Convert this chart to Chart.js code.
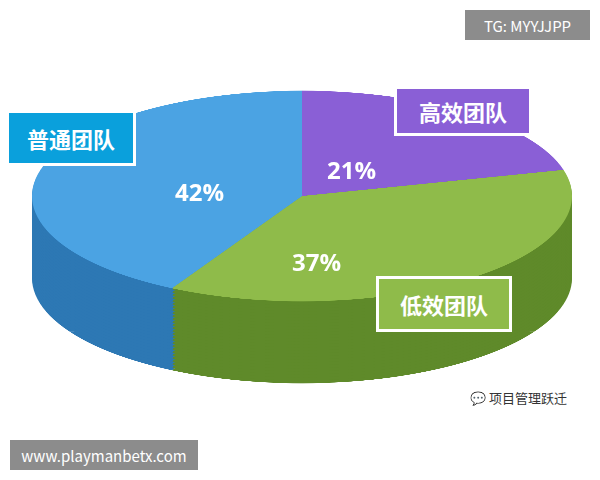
<!DOCTYPE html>
<html><head><meta charset="utf-8">
<script src="https://cdn.jsdelivr.net/npm/chart.js@4/dist/chart.umd.min.js"></script>
<style>
body{margin:0;background:#fff;font-family:"Noto Sans CJK SC","Noto Sans",sans-serif}
#wrap{position:relative;width:600px;height:480px;overflow:hidden;background:#fff}
canvas.pie{position:absolute;left:32px;width:540px;height:540px;transform:scaleY(0.39);transform-origin:50% 50%}
.lab{position:absolute;color:#fff;font-weight:bold;display:flex;align-items:center;justify-content:center}
.pct{position:absolute;color:#fff;font-weight:bold;font-size:24px;font-family:"Open Sans",sans-serif}
</style></head><body>
<div id="wrap"></div>
<script>
const categories=["高效团队","低效团队","普通团队"];
const values=[21,37,42];
const topColors=["#8a5fd6","#8fbb4a","#4ba3e3"];
const sideColors=["#5e3f99","#5f8a2a","#2d78b4"];
const wrap=document.getElementById('wrap');
function addPie(top,colors){
  const c=document.createElement('canvas');c.className='pie';c.width=540;c.height=540;c.style.top=top+'px';
  wrap.appendChild(c);
  new Chart(c,{type:'pie',data:{labels:categories,datasets:[{data:values,backgroundColor:colors,borderWidth:0}]},
    options:{responsive:false,animation:false,devicePixelRatio:2,layout:{padding:0},plugins:{legend:{display:false},tooltip:{enabled:false}}}});
}
for(let d=82;d>0;d-=3) addPie(-74+d,sideColors);
addPie(-74,topColors);
function box(t,x,y,w,h,bg,fs,border){const e=document.createElement('div');e.className='lab';e.textContent=t;
 Object.assign(e.style,{left:x+'px',top:y+'px',width:w+'px',height:h+'px',background:bg,fontSize:fs+'px',border:border||'none',boxSizing:'border-box'});wrap.appendChild(e);}
box("TG: MYYJJPP",465,10,125,30,"#8c8c8c",15);
wrap.lastChild.style.fontWeight='normal';
box(categories[2],6,110,130,56,"#0aa0dc",22,"3px solid #fff");
box(categories[0],394,86,138,50,"#8a5fd6",22,"3px solid #fff");
box(categories[1],376,276,136,56,"#8fbb4a",22,"3px solid #fff");
box("www.playmanbetx.com",10,440,188,30,"#8c8c8c",15);
wrap.lastChild.style.fontWeight='normal';
const pcts=[[values[0],327,153],[values[1],292,245],[values[2],175,175]];
pcts.forEach(([v,x,y])=>{const e=document.createElement('div');e.className='pct';e.textContent=v+'%';e.style.left=x+'px';e.style.top=y+'px';wrap.appendChild(e);});
const w=document.createElement('div');w.textContent='💬 项目管理跃迁';Object.assign(w.style,{position:'absolute',left:470,top:388,fontSize:'13px',color:'#333'});
w.style.left='470px';w.style.top='388px';wrap.appendChild(w);
</script></body></html>
